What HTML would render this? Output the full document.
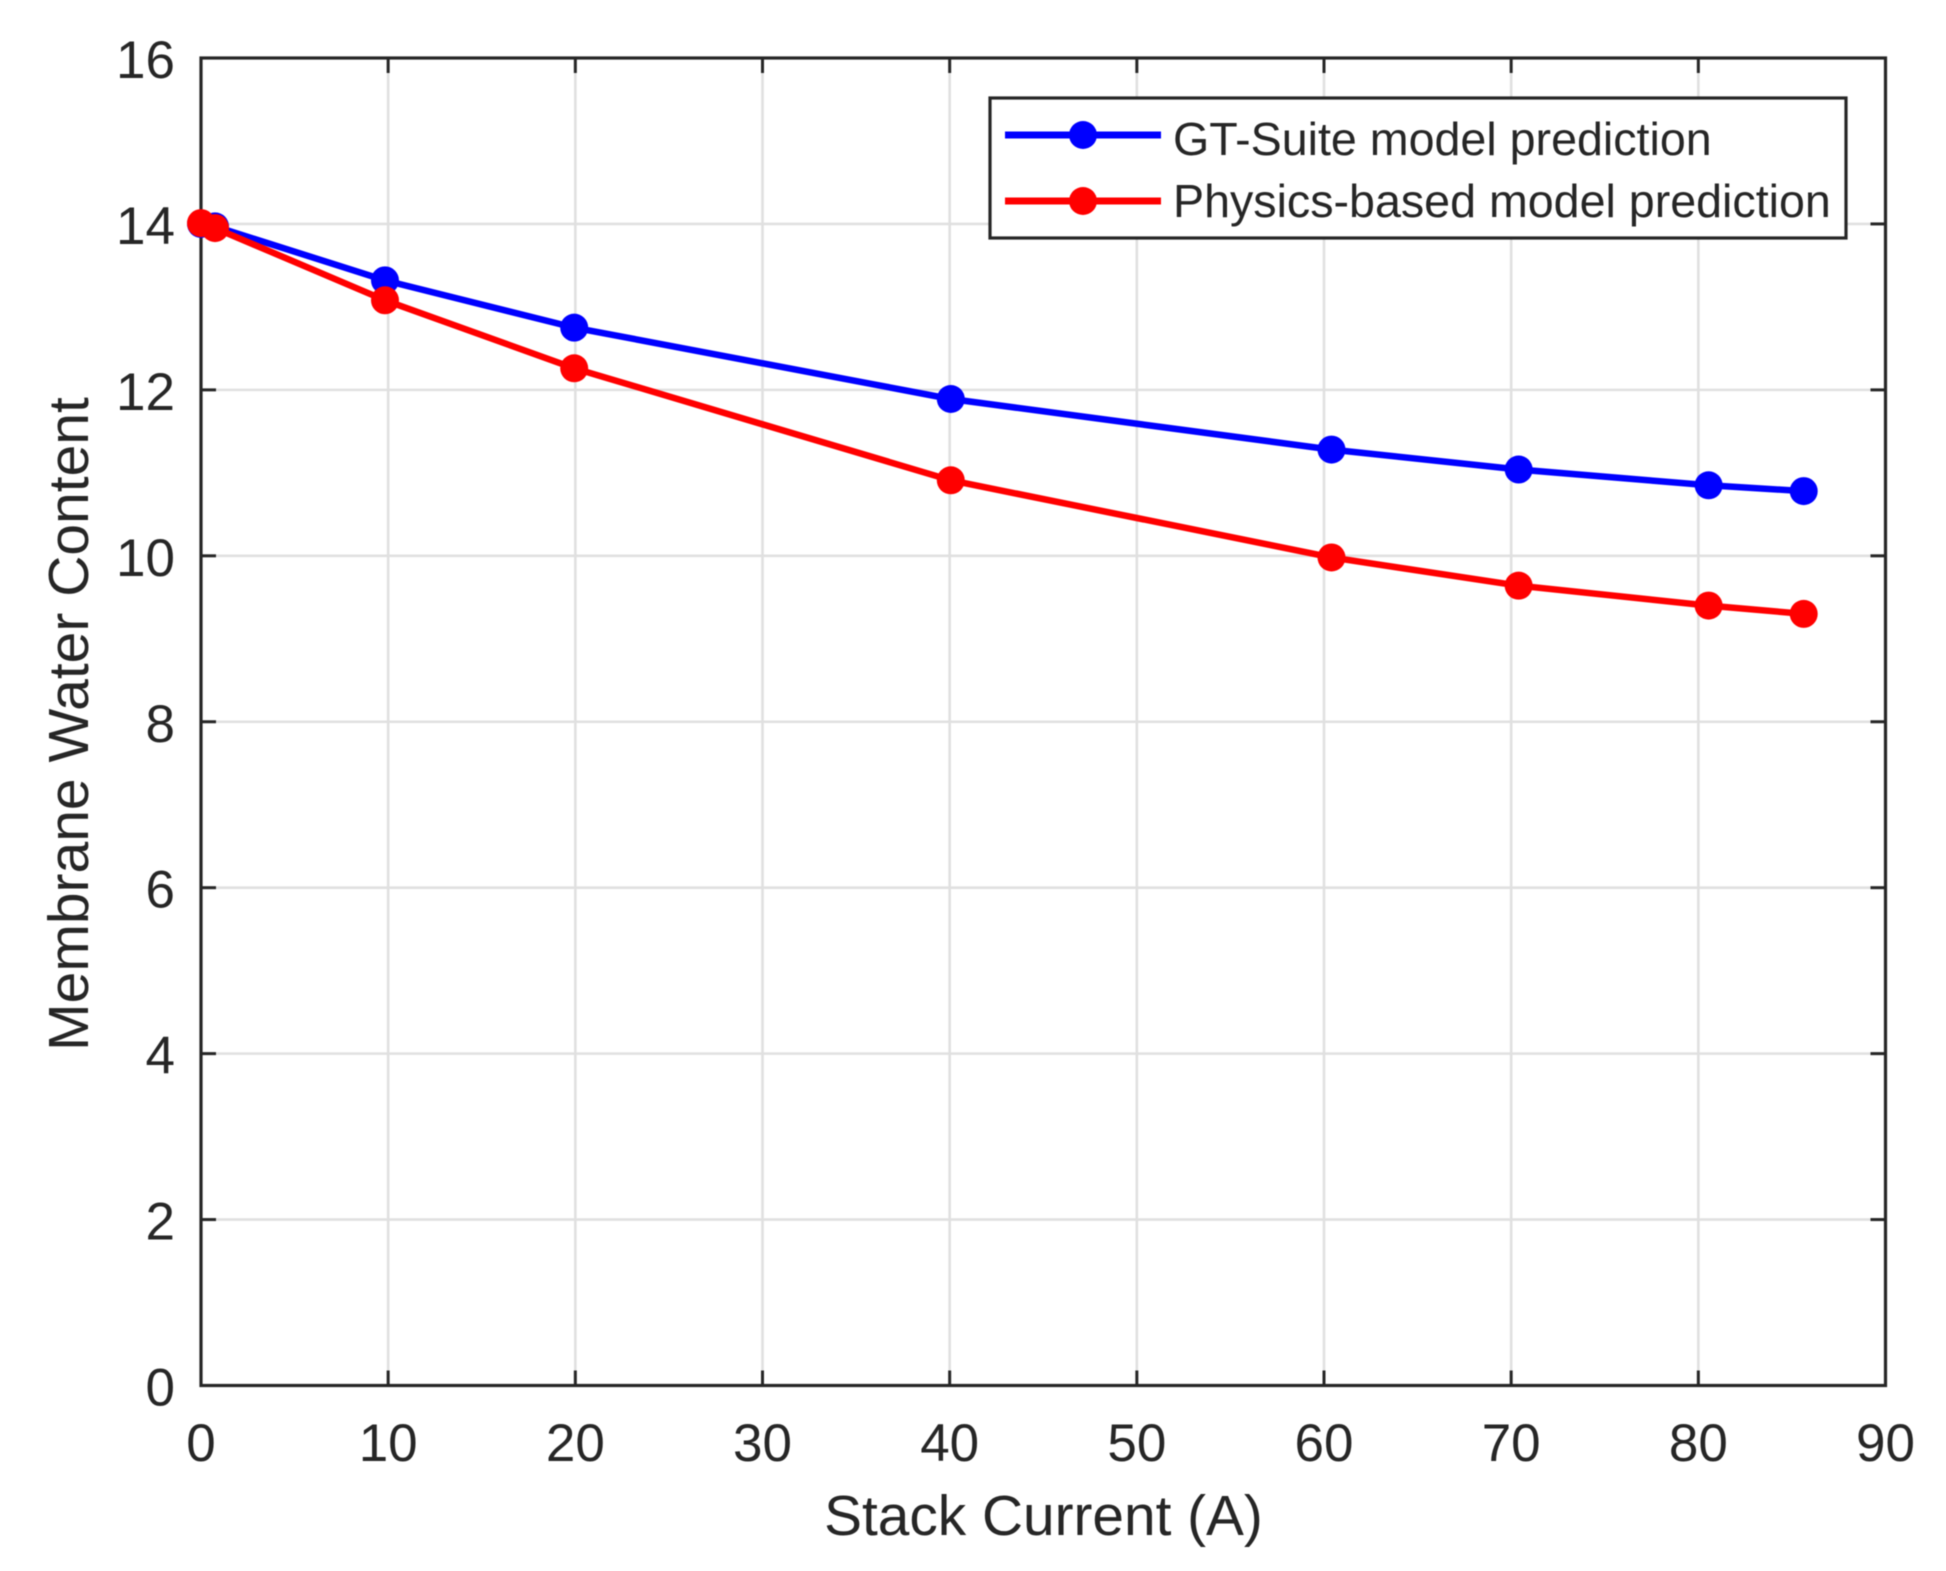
<!DOCTYPE html>
<html lang="en">
<head>
<meta charset="utf-8">
<title>Membrane Water Content vs Stack Current</title>
<style>
  html, body { margin: 0; padding: 0; background: #fff; }
  svg { display: block; filter: blur(0.6px); }
  text { font-family: "Liberation Sans", Arial, sans-serif; fill: #262626; }
</style>
</head>
<body>
<svg id="chart" xmlns="http://www.w3.org/2000/svg" width="1946" height="1571" viewBox="0 0 1946 1571">
  <rect x="0" y="0" width="1946" height="1571" fill="#ffffff"/>
  <g id="grid"></g>
  <g id="ticks"></g>
  <g id="tick-labels" font-size="53"></g>
  <rect x="201" y="58" width="1684.5" height="1327.5" fill="none" stroke="#262626" stroke-width="3.2"/>
  <g id="series"></g>
  <text x="1043.5" y="1535" font-size="56.8" text-anchor="middle">Stack Current (A)</text>
  <text transform="translate(88,724) rotate(-90)" font-size="57" text-anchor="middle">Membrane Water Content</text>
  <g>
    <rect x="990" y="98" width="856" height="140" fill="#ffffff" stroke="#262626" stroke-width="3.2"/>
    <g>
      <line x1="1005" y1="135" x2="1161" y2="135" stroke="#0000ff" stroke-width="7"/>
      <circle cx="1083" cy="135" r="14" fill="#0000ff"/>
      <text x="1173" y="155" font-size="46.6">GT-Suite model prediction</text>
    </g>
    <g>
      <line x1="1005" y1="201" x2="1161" y2="201" stroke="#ff0000" stroke-width="7"/>
      <circle cx="1083" cy="201" r="14" fill="#ff0000"/>
      <text x="1173" y="217" font-size="46.6">Physics-based model prediction</text>
    </g>
  </g>
</svg>
<script>
const stackCurrent = [0, 0.75, 9.83, 19.94, 40.06, 60.4, 70.4, 80.55, 85.63];
const gtSuiteValues = [14.0, 13.97, 13.32, 12.75, 11.89, 11.28, 11.04, 10.85, 10.78];
const physicsValues = [14.01, 13.95, 13.08, 12.26, 10.91, 9.98, 9.64, 9.40, 9.30];
const xTickLabels = [0, 10, 20, 30, 40, 50, 60, 70, 80, 90];
const yTickLabels = [0, 2, 4, 6, 8, 10, 12, 14, 16];

const SVG_NS = 'http://www.w3.org/2000/svg';
const plot = { left: 201, right: 1885.5, top: 58, bottom: 1385.5, xMax: 90, yMax: 16 };

function xScale(v) {
  return plot.left + (v / plot.xMax) * (plot.right - plot.left);
}
function yScale(v) {
  return plot.bottom - (v / plot.yMax) * (plot.bottom - plot.top);
}
function makeLine(x1, y1, x2, y2, color, width) {
  const el = document.createElementNS(SVG_NS, 'line');
  el.setAttribute('x1', x1);
  el.setAttribute('y1', y1);
  el.setAttribute('x2', x2);
  el.setAttribute('y2', y2);
  el.setAttribute('stroke', color);
  el.setAttribute('stroke-width', width);
  return el;
}
function makeLabel(x, y, anchor, content) {
  const el = document.createElementNS(SVG_NS, 'text');
  el.setAttribute('x', x);
  el.setAttribute('y', y);
  el.setAttribute('text-anchor', anchor);
  el.textContent = content;
  return el;
}

const gridGroup = document.getElementById('grid');
const tickGroup = document.getElementById('ticks');
const labelGroup = document.getElementById('tick-labels');
const TICK_LENGTH = 15;

xTickLabels.forEach(function (t) {
  const x = xScale(t);
  if (t > 0 && t < plot.xMax) {
    const g = makeLine(x, plot.top, x, plot.bottom, '#e0e0e0', 2.6);
    
    
    gridGroup.appendChild(g);
    const t1 = makeLine(x, plot.bottom, x, plot.bottom - TICK_LENGTH, '#262626', 3);
    
    
    tickGroup.appendChild(t1);
    const t2 = makeLine(x, plot.top, x, plot.top + TICK_LENGTH, '#262626', 3);
    
    
    tickGroup.appendChild(t2);
  }
  const lab = makeLabel(x, 1461, 'middle', String(t));
  
  
  labelGroup.appendChild(lab);
});

yTickLabels.forEach(function (t) {
  const y = yScale(t);
  if (t > 0 && t < plot.yMax) {
    const g = makeLine(plot.left, y, plot.right, y, '#e0e0e0', 2.6);
    
    
    gridGroup.appendChild(g);
    const t1 = makeLine(plot.left, y, plot.left + TICK_LENGTH, y, '#262626', 3);
    
    
    tickGroup.appendChild(t1);
    const t2 = makeLine(plot.right, y, plot.right - TICK_LENGTH, y, '#262626', 3);
    
    
    tickGroup.appendChild(t2);
  }
  const lab = makeLabel(175, y + 20, 'end', String(t));
  
  
  labelGroup.appendChild(lab);
});

function drawSeries(values, color, seriesName) {
  const seriesGroup = document.getElementById('series');
  const path = document.createElementNS(SVG_NS, 'polyline');
  const pts = values.map(function (v, i) {
    return xScale(stackCurrent[i]) + ',' + yScale(v);
  });
  path.setAttribute('points', pts.join(' '));
  path.setAttribute('fill', 'none');
  path.setAttribute('stroke', color);
  path.setAttribute('stroke-width', '6.5');
  path.setAttribute('stroke-linejoin', 'round');
  
  
  seriesGroup.appendChild(path);
  values.forEach(function (v, i) {
    const c = document.createElementNS(SVG_NS, 'circle');
    c.setAttribute('cx', xScale(stackCurrent[i]));
    c.setAttribute('cy', yScale(v));
    c.setAttribute('r', '14');
    c.setAttribute('fill', color);
    
    
    seriesGroup.appendChild(c);
  });
}

drawSeries(gtSuiteValues, '#0000ff', 'gt-suite');
drawSeries(physicsValues, '#ff0000', 'physics-based');
</script>
</body>
</html>
